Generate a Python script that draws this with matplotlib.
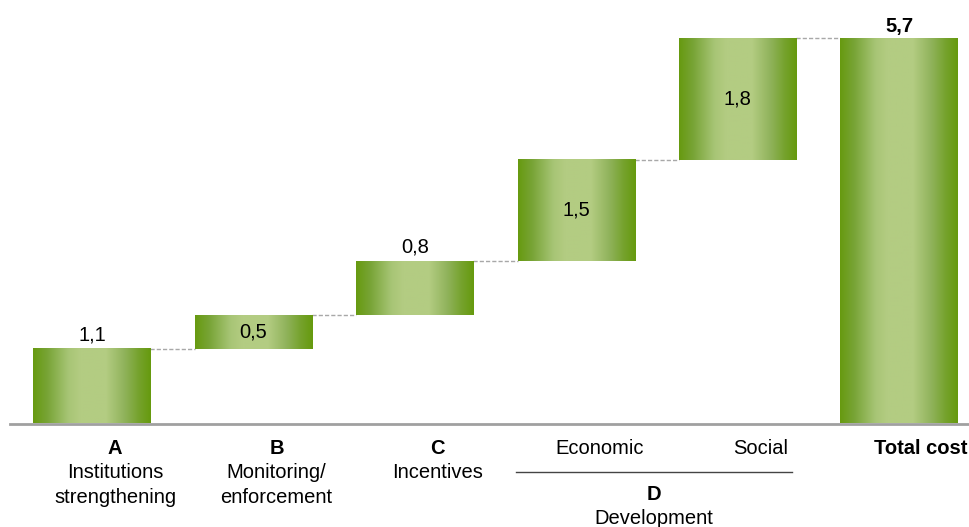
import matplotlib.pyplot as plt
import numpy as np
from matplotlib.colors import LinearSegmentedColormap

plt.rcParams["font.family"] = ["Liberation Sans", "DejaVu Sans"]

# Data
steps = ["A", "B", "C", "Economic", "Social"]
values = [1.1, 0.5, 0.8, 1.5, 1.8]
total = 5.7
value_text = ["1,1", "0,5", "0,8", "1,5", "1,8"]
total_text = "5,7"
label_pos = ["above", "inside", "above", "inside", "inside"]
group_labels = [("A", ["Institutions", "strengthening"]),
                ("B", ["Monitoring/", "enforcement"]),
                ("C", ["Incentives"])]
sub_labels = ["Economic", "Social"]

# Figure geometry (pixels -> data)
W, H = 969, 527
base_px = 423
px_per_unit = 67.5
fig = plt.figure(figsize=(W / 100, H / 100), dpi=100)
ax = fig.add_axes([0, (H - base_px) / H, 1, base_px / H])
ax.set_xlim(-0.57, 5.434)
ax.set_ylim(0, base_px / px_per_unit)
ax.axis("off")

dx = 1 / 161.4  # one pixel in x data units
dy = 1 / px_per_unit
width = 0.725
fs = 14.5

grad = LinearSegmentedColormap.from_list(
    "bar",
    [(0.0, "#679a10"), (0.12, "#78a436"), (0.3, "#a7c575"), (0.4, "#b3cc82"),
     (0.62, "#b3cc82"), (0.78, "#8fb25a"), (0.9, "#75a22c"), (1.0, "#669a0e")],
)
g = np.linspace(0, 1, 256).reshape(1, -1)


def gbar(x, bottom, height):
    ax.imshow(g, cmap=grad, aspect="auto", interpolation="bilinear",
              extent=(x - width / 2, x + width / 2, bottom, bottom + height),
              zorder=2)


cum = np.cumsum([0] + values)
for i, v in enumerate(values):
    gbar(i, cum[i], v)
    if label_pos[i] == "above":
        ax.text(i, cum[i + 1] + 14 * dy, value_text[i], ha="center",
                va="center", fontsize=fs)
    else:
        ax.text(i, cum[i] + v / 2, value_text[i], ha="center", va="center",
                fontsize=fs)
    # connector
    ax.plot([i + width / 2, i + 1 - width / 2], [cum[i + 1]] * 2,
            color="#a8a8a8", lw=1, ls=(0, (3, 1.5)), zorder=1)

n = len(values)
gbar(n, 0, total)
ax.text(n, total + 12 * dy, total_text, ha="center", va="center",
        fontsize=fs, fontweight="bold")

# baseline
ax.plot([-0.51, 5.5], [-1 * dy, -1 * dy], color="#a0a0a0", lw=2,
        clip_on=False, zorder=3)

off = 23 * dx
for i, (letter, lines) in enumerate(group_labels):
    ax.text(i + off, -26 * dy, letter, ha="center", va="center",
            fontsize=fs, fontweight="bold", clip_on=False)
    for k, line in enumerate(lines):
        ax.text(i + off, (-50 - 24.5 * k) * dy, line, ha="center",
                va="center", fontsize=fs, clip_on=False)

for j, s in enumerate(sub_labels):
    ax.text(3 + j + off, -26 * dy, s, ha="center", va="center", fontsize=fs,
            clip_on=False)
ax.plot([3 - width / 2 - 2 * dx, 4 + 54 * dx], [-49 * dy] * 2, color="#444444",
        lw=1, clip_on=False)
ax.text(3.5 - 3 * dx, -71 * dy, "D", ha="center", va="center", fontsize=fs,
        fontweight="bold", clip_on=False)
ax.text(3.5 - 3 * dx, -95 * dy, "Development", ha="center", va="center",
        fontsize=fs, clip_on=False)
ax.text(n - width / 2 + 34 * dx, -26 * dy, "Total cost", ha="left",
        va="center", fontsize=fs, fontweight="bold", clip_on=False)

fig.savefig("out.png", dpi=100)
